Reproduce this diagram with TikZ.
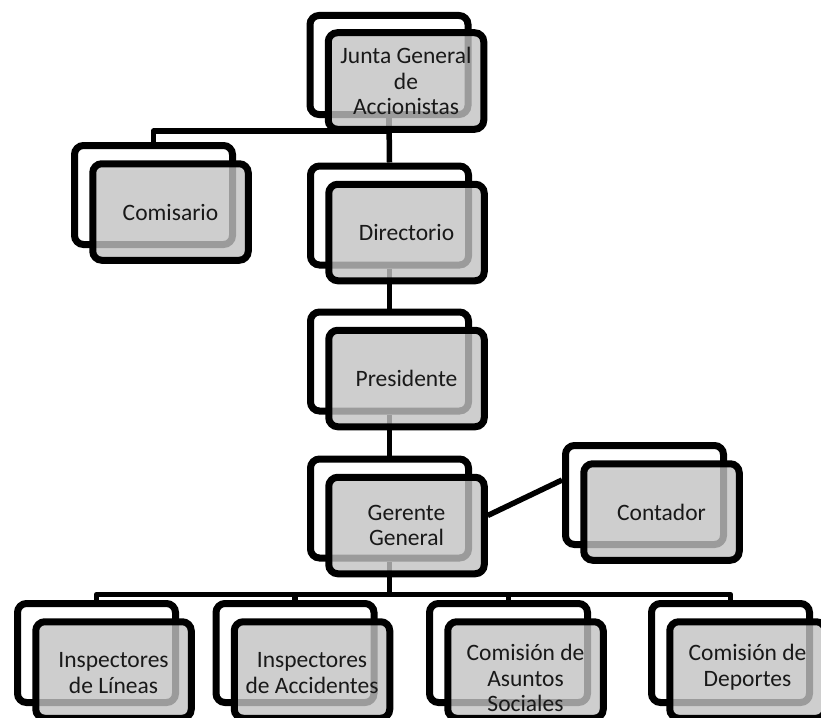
\documentclass[tikz,border=0pt]{standalone}
\usepackage{fontspec}
\setmainfont{Carlito}
\usetikzlibrary{calc}
\definecolor{boxgray}{RGB}{194,194,194}
\begin{document}
\begin{tikzpicture}[x=1pt,y=-1pt,
  backbox/.style={draw=black, fill=white, line width=7pt, rounded corners=9pt,
    minimum width=158pt, minimum height=99pt, inner sep=0pt},
  frontbox/.style={draw=black, fill=boxgray, fill opacity=0.8, line width=7pt,
    rounded corners=9pt, minimum width=155.5pt, minimum height=96.5pt, inner sep=0pt},
  boxtext/.style={font=\fontsize{23.5}{25.5}\selectfont, text=black!90,
    align=center, inner sep=0pt},
  link/.style={draw=black, line width=5.5pt, line join=round}
]
\useasboundingbox (0,0) rectangle (821,717);
\clip (0,0) rectangle (821,717);

% back cards
\node[backbox] (junB) at (389,65) {};
\node[backbox] (comB) at (153.5,195) {};
\node[backbox] (dirB) at (389.5,215.5) {};
\node[backbox] (preB) at (389.5,361.5) {};
\node[backbox] (gerB) at (389.5,508.5) {};
\node[backbox] (conB) at (644.5,495) {};
\node[backbox] (linB) at (96.5,653) {};
\node[backbox] (accB) at (295,653) {};
\node[backbox] (asuB) at (508.5,653) {};
\node[backbox] (depB) at (730.5,653) {};

% connectors
\draw[link] (junB.south) -- (dirB.north);
\draw[link] (junB.south) -- ++(0,13) -| (comB.north);
\draw[link] (dirB.south) -- (preB.north);
\draw[link] (preB.south) -- (gerB.north);
\draw[link] (gerB.south) -- ++(0,33) coordinate (bus);
\draw[link] (linB.north) |- (bus) -| (depB.north);
\draw[link] (accB.north) -- (accB.north |- bus);
\draw[link] (asuB.north) -- (asuB.north |- bus);

% front cards
\node[frontbox] (jun) at (406,81) {};
\node[frontbox] (com) at (170.5,212) {};
\node[frontbox] (dir) at (406.5,232.5) {};
\node[frontbox] (pre) at (406.5,378.5) {};
\node[frontbox] (ger) at (406.5,525.5) {};
\node[frontbox] (con) at (661.5,512) {};
\node[frontbox] (lin) at (113.5,670) {};
\node[frontbox] (acc) at (312,670) {};
\node[frontbox] (asu) at (525.5,670) {};
\node[frontbox] (dep) at (747.5,670) {};

\draw[link] ($(ger.east)+(0,-10)$) -- ($(conB.west)+(0,-15)$);

% labels
\node[boxtext] (junT) at (jun.center) {Junta General\\de\\Accionistas};
\node[boxtext] (comT) at (com.center) {Comisario};
\node[boxtext] (dirT) at (dir.center) {Directorio};
\node[boxtext] (preT) at (pre.center) {Presidente};
\node[boxtext] (gerT) at (ger.center) {Gerente\\General};
\node[boxtext] (conT) at (con.center) {Contador};
\node[boxtext] (linT) at ($(lin.center)+(0,3)$) {Inspectores\\de Líneas};
\node[boxtext] (accT) at ($(acc.center)+(0,3)$) {Inspectores\\de Accidentes};
\node[boxtext] (asuT) at ($(asu.center)+(0,8)$) {Comisión de\\Asuntos\\Sociales};
\node[boxtext] (depT) at ($(dep.center)+(0,-3)$) {Comisión de\\Deportes};
\end{tikzpicture}
\end{document}
